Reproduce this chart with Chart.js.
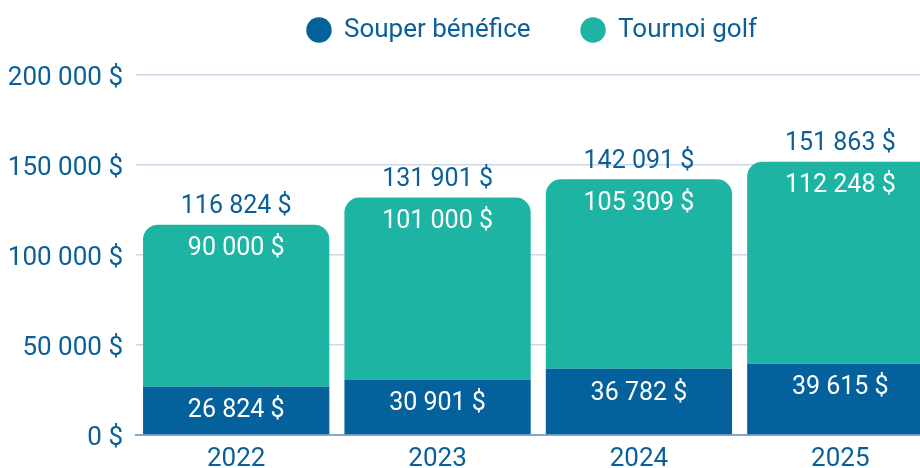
<!DOCTYPE html>
<html>
<head>
<meta charset="utf-8">
<script src="https://cdn.jsdelivr.net/npm/chart.js@4.4.1/dist/chart.umd.min.js"></script>
<style>
  html, body { margin: 0; padding: 0; background: #fff; width: 920px; height: 468px; overflow: hidden; }
  #wrap { width: 941px; height: 468px; position: relative; }
  canvas { display: block; }
</style>
</head>
<body>
<div id="wrap"><canvas id="c" width="941" height="468"></canvas></div>
<script>
const categories = ['2022', '2023', '2024', '2025'];
const seriesNames = ['Souper bénéfice', 'Tournoi golf'];
const souperValues = [26824, 30901, 36782, 39615];
const golfValues = [90000, 101000, 105309, 112248];
const yTickValues = [0, 50000, 100000, 150000, 200000];

const BLUE = '#04619c';
const TEAL = '#1eb4a4';
const TEXT = '#0b5f98';
const FONT = 'Roboto';
const FS_LABEL = 25;
const FS_AXIS = 26;
const LEGEND_CENTER_X = 532;
const LEGEND_HEIGHT = 108.5;

function fmt(n) {
  return String(n).replace(/\B(?=(\d{3})+(?!\d))/g, ' ') + ' $';
}

// Keep the legend's generous horizontal item spacing without its vertical padding,
// and centre it where the reference has it.
const legendPatch = {
  id: 'legendPatch',
  afterInit(chart) {
    const lg = chart.legend;
    if (!lg) return;
    const fit = lg.fit;
    lg.fit = function () { fit.call(this); this.height = LEGEND_HEIGHT; };
    const draw = lg.draw;
    lg.draw = function () {
      const ctx = this.ctx;
      ctx.save();
      ctx.translate(LEGEND_CENTER_X - (this.left + this.right) / 2, 0);
      draw.apply(this, arguments);
      ctx.restore();
    };
  }
};

const barLabels = {
  id: 'barLabels',
  afterDatasetsDraw(chart) {
    const ctx = chart.ctx;
    ctx.save();
    ctx.font = FS_LABEL + 'px ' + FONT;
    ctx.textAlign = 'center';
    ctx.textBaseline = 'middle';
    const n = chart.data.datasets.length;
    chart.data.datasets.forEach((ds, i) => {
      const meta = chart.getDatasetMeta(i);
      meta.data.forEach((bar, j) => {
        const p = bar.getProps(['x', 'y', 'base'], true);
        ctx.fillStyle = '#ffffff';
        ctx.fillText(fmt(ds.data[j]), p.x, p.y + 24.5);
        if (i === n - 1) {
          let total = 0;
          chart.data.datasets.forEach(d => { total += d.data[j]; });
          ctx.fillStyle = TEXT;
          ctx.fillText(fmt(total), p.x, p.y - 17.5);
        }
      });
    });
    ctx.restore();
  }
};

new Chart(document.getElementById('c'), {
  type: 'bar',
  data: {
    labels: categories,
    datasets: [
      {
        label: seriesNames[0],
        data: souperValues,
        backgroundColor: BLUE,
        borderRadius: 0,
        categoryPercentage: 1,
        barPercentage: 0.925
      },
      {
        label: seriesNames[1],
        data: golfValues,
        backgroundColor: TEAL,
        borderRadius: { topLeft: 15, topRight: 15, bottomLeft: 0, bottomRight: 0 },
        borderSkipped: 'start',
        categoryPercentage: 1,
        barPercentage: 0.925
      }
    ]
  },
  options: {
    responsive: false,
    animation: false,
    devicePixelRatio: 1,
    layout: { padding: { left: 0, top: -33.5, right: 0, bottom: 0 } },
    plugins: {
      tooltip: { enabled: false },
      legend: {
        position: 'top',
        fullSize: false,
        labels: {
          usePointStyle: true,
          pointStyle: 'circle',
          boxWidth: 24,
          boxHeight: 18,
          padding: 50.5,
          color: TEXT,
          font: { family: FONT, size: FS_AXIS }
        }
      }
    },
    scales: {
      x: {
        stacked: true,
        grid: { display: false, drawTicks: false },
        border: { display: true, color: '#86a9c8', width: 2 },
        ticks: { color: TEXT, font: { family: FONT, size: FS_AXIS }, padding: 9 },
        afterFit(s) { s.height = 33; }
      },
      y: {
        stacked: true,
        min: 0,
        max: 200000,
        afterBuildTicks(s) { s.ticks = yTickValues.map(v => ({ value: v })); },
        grid: { color: '#c9d9e7', lineWidth: 1.5, drawTicks: false },
        border: { display: false },
        ticks: {
          color: TEXT,
          font: { family: FONT, size: FS_AXIS },
          padding: 12.5,
          labelOffset: 3,
          callback: v => fmt(v)
        },
        afterFit(s) { s.width = 135.5; }
      }
    }
  },
  plugins: [legendPatch, barLabels]
});
</script>
</body>
</html>
